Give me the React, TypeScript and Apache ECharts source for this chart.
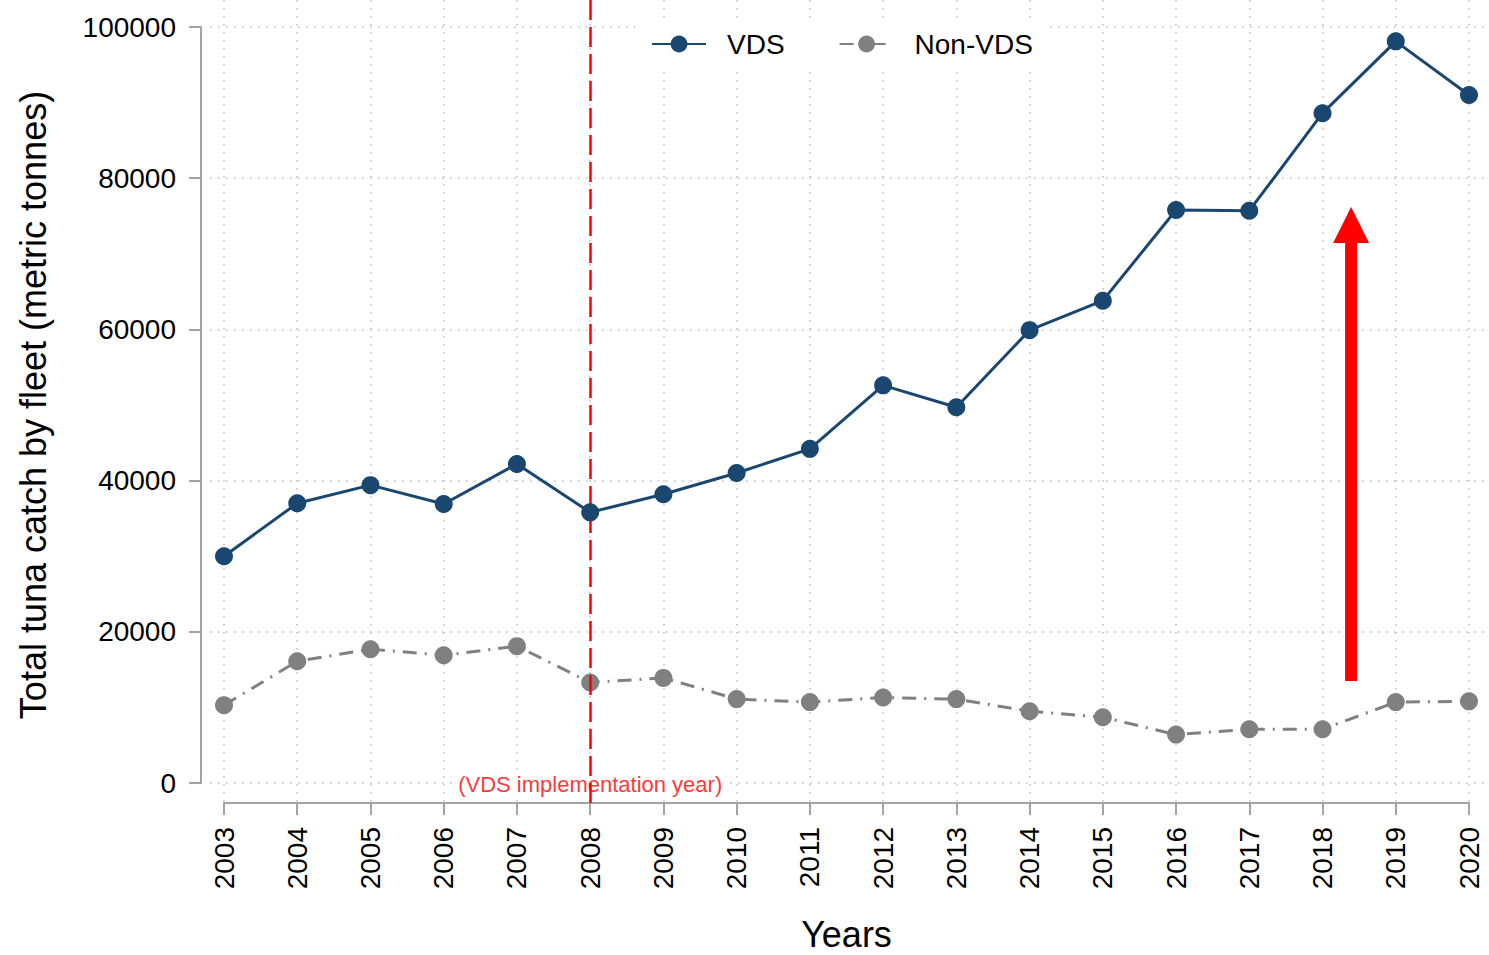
import React, { useEffect, useRef } from "react";
import * as echarts from "echarts";

const years = [2003, 2004, 2005, 2006, 2007, 2008, 2009, 2010, 2011, 2012, 2013, 2014, 2015, 2016, 2017, 2018, 2019, 2020];
const vdsCatch = [30000, 37000, 39400, 36900, 42200, 35800, 38200, 41000, 44200, 52600, 49700, 59900, 63800, 75800, 75700, 88600, 98100, 91000];
const nonVdsCatch = [10300, 16100, 17700, 16900, 18100, 13300, 13900, 11100, 10700, 11300, 11100, 9500, 8700, 6400, 7100, 7100, 10700, 10800];
const yTicks = [0, 20000, 40000, 60000, 80000, 100000];
const implementationYear = 2008;
const implementationLabel = "(VDS implementation year)";
// [x (year), start value, tip value]
const arrowData = [2018.39, 13500, 76200];
const seriesNames = ["VDS", "Non-VDS"];
const yAxisName = "Total tuna catch by fleet (metric tonnes)";
const xAxisName = "Years";

const FONT = "'Liberation Sans', Arial, Helvetica, sans-serif";
const AXIS_GRAY = "#a3a3a3";
const GRID_GRAY = "#bdbdbd";

export default function App() {
  const ref = useRef<HTMLDivElement>(null);

  useEffect(() => {
    if (!ref.current) return;
    const chart = echarts.init(ref.current, null, { renderer: "svg" });

    const yMin = yTicks[0];
    const yMax = yTicks[yTicks.length - 1];
    const yStep = yTicks[1] - yTicks[0];
    const xMin = years[0];
    const xMax = years[years.length - 1];

    // main grid geometry
    const gLeft = 224, gRight = 1469, gTop = 27, gBottom = 783;
    const W = 1489, H = 955;

    const gridLineStyle = { color: GRID_GRAY, width: 1.5, type: [1.5, 6.5] };

    const option: any = {
      animation: false,
      backgroundColor: "#ffffff",
      textStyle: { fontFamily: FONT },
      legend: {
        data: seriesNames,
        left: 635,
        top: 20,
        padding: [10, 14, 10, 16],
        backgroundColor: "#ffffff",
        itemWidth: 54,
        itemHeight: 21,
        itemGap: 54,
        textStyle: { fontSize: 28, color: "#000", fontFamily: FONT, padding: [0, 0, 0, 16] },
      },
      grid: [
        // main data grid
        { left: gLeft, right: W - gRight, top: gTop, bottom: H - gBottom, outerBoundsMode: "none", containLabel: false },
        // vertical grid lines (taller extent)
        { left: gLeft, right: W - gRight, top: 0, bottom: H - 803, outerBoundsMode: "none", containLabel: false },
        // horizontal grid lines (wider extent)
        { left: 210, right: 4, top: gTop, bottom: H - gBottom, outerBoundsMode: "none", containLabel: false },
      ],
      xAxis: [
        {
          gridIndex: 0,
          type: "value",
          min: xMin,
          max: xMax,
          interval: 1,
          offset: 20,
          name: xAxisName,
          nameLocation: "middle",
          nameGap: 113,
          nameTextStyle: { fontSize: 36, color: "#000", fontFamily: FONT },
          axisLine: { show: true, onZero: false, lineStyle: { color: AXIS_GRAY, width: 2 } },
          axisTick: { show: true, length: 12, lineStyle: { color: AXIS_GRAY, width: 2 } },
          axisLabel: {
            rotate: 90,
            margin: 24,
            fontSize: 28,
            color: "#000",
            fontFamily: FONT,
            formatter: (v: number) => String(v),
          },
          splitLine: { show: false },
        },
        {
          gridIndex: 1,
          type: "value",
          min: xMin,
          max: xMax,
          interval: 1,
          axisLine: { show: false, onZero: false },
          axisTick: { show: false },
          axisLabel: { show: false },
          splitLine: { show: true, lineStyle: gridLineStyle },
        },
        {
          gridIndex: 2,
          type: "value",
          min: 0,
          max: 1,
          show: false,
        },
      ],
      yAxis: [
        {
          gridIndex: 0,
          type: "value",
          min: yMin,
          max: yMax,
          interval: yStep,
          offset: 23,
          name: yAxisName,
          nameLocation: "middle",
          nameGap: 150,
          nameRotate: 90,
          nameTextStyle: { fontSize: 36, color: "#000", fontFamily: FONT },
          axisLine: { show: true, onZero: false, lineStyle: { color: AXIS_GRAY, width: 2 } },
          axisTick: { show: true, length: 12, lineStyle: { color: AXIS_GRAY, width: 2 } },
          axisLabel: {
            margin: 25,
            fontSize: 28,
            color: "#000",
            fontFamily: FONT,
            formatter: (v: number) => String(v),
          },
          splitLine: { show: false },
        },
        {
          gridIndex: 1,
          type: "value",
          min: 0,
          max: 1,
          show: false,
        },
        {
          gridIndex: 2,
          type: "value",
          min: yMin,
          max: yMax,
          interval: yStep,
          axisLine: { show: false, onZero: false },
          axisTick: { show: false },
          axisLabel: { show: false },
          splitLine: { show: true, lineStyle: gridLineStyle },
        },
      ],
      series: [
        {
          name: seriesNames[1],
          type: "line",
          xAxisIndex: 0,
          yAxisIndex: 0,
          z: 2,
          data: years.map((y, i) => [y, nonVdsCatch[i]]),
          symbol: "circle",
          symbolSize: 18,
          itemStyle: { color: "#808080" },
          lineStyle: { color: "#808080", width: 3, type: [14, 8, 2, 8] },
        },
        {
          name: "annotation",
          type: "scatter",
          xAxisIndex: 0,
          yAxisIndex: 0,
          z: 2,
          silent: true,
          symbolSize: 0,
          data: [[implementationYear, 0]],
          label: {
            show: true,
            position: "inside",
            offset: [0, 1],
            formatter: implementationLabel,
            color: "#ff0000",
            fontSize: 22,
            fontFamily: FONT,
            backgroundColor: "#ffffff",
            padding: [0, 2],
          },
        },
        {
          name: "implementation",
          type: "line",
          xAxisIndex: 1,
          yAxisIndex: 1,
          z: 3,
          data: [],
          markLine: {
            silent: true,
            symbol: "none",
            z: 3,
            label: { show: false },
            lineStyle: { color: "#ff0000", width: 2.5, type: [20, 7] },
            data: [{ xAxis: implementationYear }],
          },
        },
        {
          name: seriesNames[0],
          type: "line",
          xAxisIndex: 0,
          yAxisIndex: 0,
          z: 6,
          data: years.map((y, i) => [y, vdsCatch[i]]),
          symbol: "circle",
          symbolSize: 18,
          itemStyle: { color: "#1a476f" },
          lineStyle: { color: "#1a476f", width: 3 },
        },
        {
          name: "arrow",
          type: "custom",
          xAxisIndex: 0,
          yAxisIndex: 0,
          z: 7,
          silent: true,
          clip: false,
          data: [arrowData],
          renderItem: (params: any, api: any) => {
            const x = api.value(0);
            const b = api.coord([x, api.value(1)]);
            const t = api.coord([x, api.value(2)]);
            const hw = 6, hh = 18, hl = 36;
            const points = [
              [b[0] - hw, b[1]],
              [b[0] + hw, b[1]],
              [b[0] + hw, t[1] + hl],
              [b[0] + hh, t[1] + hl],
              [t[0], t[1]],
              [b[0] - hh, t[1] + hl],
              [b[0] - hw, t[1] + hl],
            ];
            return { type: "polygon", shape: { points }, style: { fill: "#ff0000" } };
          },
        },
      ],
    };

    chart.setOption(option);
    return () => chart.dispose();
  }, []);

  return (
    <div
      ref={ref}
      style={{ position: "absolute", left: 0, top: 0, width: 1489, height: 955 }}
    />
  );
}
